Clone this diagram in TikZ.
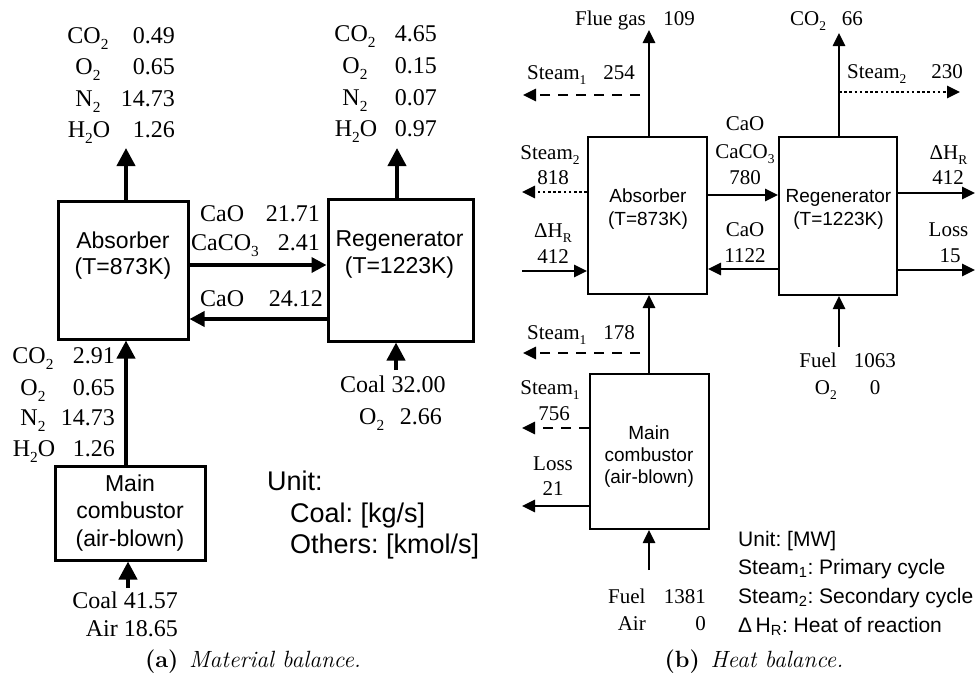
\documentclass[tikz,border=0pt]{standalone}
\usepackage{fontspec}
\usepackage{graphicx}
\newfontfamily\tms{Liberation Serif}
\newfontfamily\arl{Liberation Sans}
\usetikzlibrary{arrows.meta}
\newcommand\sbs[1]{\raisebox{-0.26em}{\scalebox{0.64}{#1}}}
\frenchspacing
\begin{document}
\begin{tikzpicture}[x=1pt,y=-1pt,
  boxa/.style={draw, line width=3pt, inner sep=0pt},
  boxb/.style={draw, line width=2pt, inner sep=0pt},
  sa/.style={font=\tms\fontsize{24}{28}\selectfont, inner sep=0pt},
  ha/.style={font=\arl\fontsize{23}{27}\selectfont, inner sep=0pt},
  ua/.style={font=\arl\fontsize{27}{31}\selectfont, inner sep=0pt, anchor=base west},
  sb/.style={font=\tms\fontsize{21}{25}\selectfont, inner sep=0pt},
  hb/.style={font=\arl\fontsize{19}{22}\selectfont, inner sep=0pt},
  lg/.style={font=\arl\fontsize{21}{25}\selectfont, inner sep=0pt, anchor=base west},
  captext/.style={font=\fontsize{23.5}{27}\selectfont, inner sep=0pt, anchor=base},
  arra/.style={line width=4pt, -{Triangle[length=18pt,width=18pt]}},
  arrah/.style={line width=3.5pt, -{Triangle[length=15pt,width=15pt]}},
  arrb/.style={line width=2.6pt, -{Triangle[length=13pt,width=12pt]}},
  dashb/.style={arrb, dash pattern=on 10pt off 8pt},
  dotb/.style={arrb, dash pattern=on 2.6pt off 2.6pt}]
\useasboundingbox (0,0) rectangle (976,675);

% ================= (a) Material balance =================
\node[boxa, minimum width=130pt, minimum height=138pt] (absA) at (123,270) {};
\node[boxa, minimum width=145pt, minimum height=142pt] (regA) at (400.5,270) {};
\node[boxa, minimum width=150pt, minimum height=94pt] (combA) at (130,513) {};

\node[ha, anchor=base] (absAt1) at (123,248) {Absorber};
\node[ha, anchor=base] (absAt2) at (123,274) {(T=873K)};
\node[ha, anchor=base] (regAt1) at (399.5,246) {Regenerator};
\node[ha, anchor=base] (regAt2) at (399.5,273) {(T=1223K)};
\node[ha, anchor=base] (combAt1) at (130,491) {Main};
\node[ha, anchor=base] (combAt2) at (130,518) {combustor};
\node[ha, anchor=base] (combAt3) at (130,546) {(air-blown)};

% top-left flue stream
\node[sa, anchor=base] (tl1) at (88,43) {CO\sbs{2}};
\node[sa, anchor=base east] (tl1v) at (175,43) {0.49};
\node[sa, anchor=base] (tl2) at (88,74.5) {O\sbs{2}};
\node[sa, anchor=base east] (tl2v) at (175,74.5) {0.65};
\node[sa, anchor=base] (tl3) at (88,106) {N\sbs{2}};
\node[sa, anchor=base east] (tl3v) at (175,106) {14.73};
\node[sa, anchor=base] (tl4) at (89,137.5) {H\sbs{2}O};
\node[sa, anchor=base east] (tl4v) at (175,137.5) {1.26};

% top-right regenerator stream
\node[sa, anchor=base] (tr1) at (355,41) {CO\sbs{2}};
\node[sa, anchor=base east] (tr1v) at (437,41) {4.65};
\node[sa, anchor=base] (tr2) at (355,73) {O\sbs{2}};
\node[sa, anchor=base east] (tr2v) at (437,73) {0.15};
\node[sa, anchor=base] (tr3) at (355,105) {N\sbs{2}};
\node[sa, anchor=base east] (tr3v) at (437,105) {0.07};
\node[sa, anchor=base] (tr4) at (356,136) {H\sbs{2}O};
\node[sa, anchor=base east] (tr4v) at (437,136) {0.97};

% combustor -> absorber stream
\node[sa, anchor=base] (ml1) at (33,363) {CO\sbs{2}};
\node[sa, anchor=base east] (ml1v) at (115,363) {2.91};
\node[sa, anchor=base] (ml2) at (33,395) {O\sbs{2}};
\node[sa, anchor=base east] (ml2v) at (115,395) {0.65};
\node[sa, anchor=base] (ml3) at (33,425) {N\sbs{2}};
\node[sa, anchor=base east] (ml3v) at (115,425) {14.73};
\node[sa, anchor=base] (ml4) at (34,456) {H\sbs{2}O};
\node[sa, anchor=base east] (ml4v) at (115,456) {1.26};

% solids between absorber and regenerator
\node[sa, anchor=base west] (fw1) at (200,221) {CaO};
\node[sa, anchor=base east] (fw1v) at (320,221) {21.71};
\node[sa, anchor=base west] (fw2) at (191,250) {CaCO\sbs{3}};
\node[sa, anchor=base east] (fw2v) at (320,250) {2.41};
\node[sa, anchor=base west] (bk1) at (200,306) {CaO};
\node[sa, anchor=base east] (bk1v) at (323,306) {24.12};

% feeds
\node[sa, anchor=base east] (feA1) at (178,608) {Coal 41.57};
\node[sa, anchor=base east] (feA2) at (178,636) {Air 18.65};
\node[sa, anchor=base west] (feR1) at (340,392) {Coal 32.00};
\node[sa, anchor=base west] (feR2) at (359,424) {O\sbs{2}};
\node[sa, anchor=base east] (feR2v) at (442,424) {2.66};

% units
\node[ua] (unA1) at (267,490) {Unit:};
\node[ua] (unA2) at (290,522) {Coal: [kg/s]};
\node[ua] (unA3) at (290,553) {Others: [kmol/s]};

% arrows (a)
\coordinate (upA1) at (126,148);
\coordinate (upA2) at (397,148);
\coordinate (fA) at (0,265);
\coordinate (bA) at (0,319);
\coordinate (cA) at (126,0);
\coordinate (inA) at (128,588);
\coordinate (inA2) at (396,370);
\draw[arra] (absA.north -| upA1) -- (upA1);
\draw[arra] (regA.north -| upA2) -- (upA2);
\draw[arrah] (absA.east |- fA) -- (regA.west |- fA);
\draw[arrah] (regA.west |- bA) -- (absA.east |- bA);
\draw[arra] (combA.north -| cA) -- (absA.south -| cA);
\draw[arra] (inA) -- (combA.south -| inA);
\draw[arra] (inA2) -- (regA.south -| inA2);

\node[captext] (capA) at (253,667) {\textbf{(a)}\hspace{0.45em}\textit{Material balance.}};

% ================= (b) Heat balance =================
\node[boxb, minimum width=119pt, minimum height=157pt] (absB) at (647.5,215.5) {};
\node[boxb, minimum width=118pt, minimum height=158pt] (regB) at (838,216) {};
\node[boxb, minimum width=119pt, minimum height=155pt] (combB) at (649.5,451.5) {};

\node[hb, anchor=base] (absBt1) at (648,202) {Absorber};
\node[hb, anchor=base] (absBt2) at (648,225) {(T=873K)};
\node[hb, anchor=base] (regBt1) at (838.5,202) {Regenerator};
\node[hb, anchor=base] (regBt2) at (838.5,225) {(T=1223K)};
\node[hb, anchor=base] (combBt1) at (649,439) {Main};
\node[hb, anchor=base] (combBt2) at (649,461) {combustor};
\node[hb, anchor=base] (combBt3) at (649,483) {(air-blown)};

\node[sb, anchor=base west] (fgl) at (575,25) {Flue gas};
\node[sb, anchor=base east] (fgv) at (695,25) {109};
\node[sb, anchor=base west] (co2l) at (790,25) {CO\sbs{2}};
\node[sb, anchor=base east] (co2v) at (863,25) {66};
\node[sb, anchor=base west] (s254l) at (527,79) {Steam\sbs{1}};
\node[sb, anchor=base east] (s254v) at (635,79) {254};
\node[sb, anchor=base west] (s230l) at (847,78) {Steam\sbs{2}};
\node[sb, anchor=base east] (s230v) at (963,78) {230};
\node[sb, anchor=base] (s818l) at (550,159) {Steam\sbs{2}};
\node[sb, anchor=base] (s818v) at (553,184) {818};
\node[sb, anchor=base] (dhl) at (553,237) {ΔH\sbs{R}};
\node[sb, anchor=base] (dhv) at (553,263) {412};
\node[sb, anchor=base] (fwb1) at (745,130) {CaO};
\node[sb, anchor=base] (fwb2) at (745,158) {CaCO\sbs{3}};
\node[sb, anchor=base] (fwb3) at (745,184) {780};
\node[sb, anchor=base] (bkb1) at (745,236) {CaO};
\node[sb, anchor=base] (bkb2) at (745,262) {1122};
\node[sb, anchor=base] (dhrl) at (948.5,159) {ΔH\sbs{R}};
\node[sb, anchor=base] (dhrv) at (948,184) {412};
\node[sb, anchor=base] (lsrl) at (948.5,236) {Loss};
\node[sb, anchor=base] (lsrv) at (950,262) {15};
\node[sb, anchor=base west] (s178l) at (527,339) {Steam\sbs{1}};
\node[sb, anchor=base east] (s178v) at (635,339) {178};
\node[sb, anchor=base] (s756l) at (550,394) {Steam\sbs{1}};
\node[sb, anchor=base] (s756v) at (554,420) {756};
\node[sb, anchor=base] (ls21l) at (553,470) {Loss};
\node[sb, anchor=base] (ls21v) at (553,495) {21};
\node[sb, anchor=base west] (fu1l) at (608,603) {Fuel};
\node[sb, anchor=base east] (fu1v) at (706,603) {1381};
\node[sb, anchor=base east] (ai1l) at (646,630) {Air};
\node[sb, anchor=base east] (ai1v) at (706,630) {0};
\node[sb, anchor=base east] (fu2l) at (837,367) {Fuel};
\node[sb, anchor=base east] (fu2v) at (896,367) {1063};
\node[sb, anchor=base east] (o2l) at (837,394) {O\sbs{2}};
\node[sb, anchor=base] (o2v) at (875,394) {0};

\node[lg] (lg1) at (738,546.5) {Unit: [MW]};
\node[lg] (lg2) at (738,574.5) {Steam\textsubscript{1}: Primary cycle};
\node[lg] (lg3) at (738,603.5) {Steam\textsubscript{2}: Secondary cycle};
\node[lg] (lg4) at (738,632.5) {Δ\,H\textsubscript{R}: Heat of reaction};

% arrows (b)
\coordinate (fgT) at (649,30);
\coordinate (coT) at (839,33);
\coordinate (d1a) at (640,95);
\coordinate (d1b) at (523,95);
\coordinate (t2a) at (839,92);
\coordinate (t2b) at (960,92);
\coordinate (t818) at (522,192);
\coordinate (h412) at (522,271);
\coordinate (fB) at (0,195);
\coordinate (bB) at (0,269);
\coordinate (rdh) at (975,193);
\coordinate (rls) at (975,270);
\coordinate (cB) at (649,0);
\coordinate (d2a) at (640,353);
\coordinate (d2b) at (523,353);
\coordinate (t756) at (522,428);
\coordinate (t21) at (522,506);
\coordinate (inB) at (649,570);
\coordinate (inB2) at (839,347);
\draw[arrb] (absB.north -| fgT) -- (fgT);
\draw[arrb] (regB.north -| coT) -- (coT);
\draw[dashb] (d1a) -- (d1b);
\draw[dotb] (t2a) -- (t2b);
\draw[dotb] (absB.west |- t818) -- (t818);
\draw[arrb] (h412) -- (absB.west |- h412);
\draw[arrb] (absB.east |- fB) -- (regB.west |- fB);
\draw[arrb] (regB.west |- bB) -- (absB.east |- bB);
\draw[arrb] (regB.east |- rdh) -- (rdh);
\draw[arrb] (regB.east |- rls) -- (rls);
\draw[arrb] (combB.north -| cB) -- (absB.south -| cB);
\draw[dashb] (d2a) -- (d2b);
\draw[dashb] (combB.west |- t756) -- (t756);
\draw[arrb] (combB.west |- t21) -- (t21);
\draw[arrb] (inB) -- (combB.south -| inB);
\draw[arrb] (inB2) -- (regB.south -| inB2);

\node[captext] (capB) at (754,667) {\textbf{(b)}\hspace{0.45em}\textit{Heat balance.}};
\end{tikzpicture}
\end{document}
